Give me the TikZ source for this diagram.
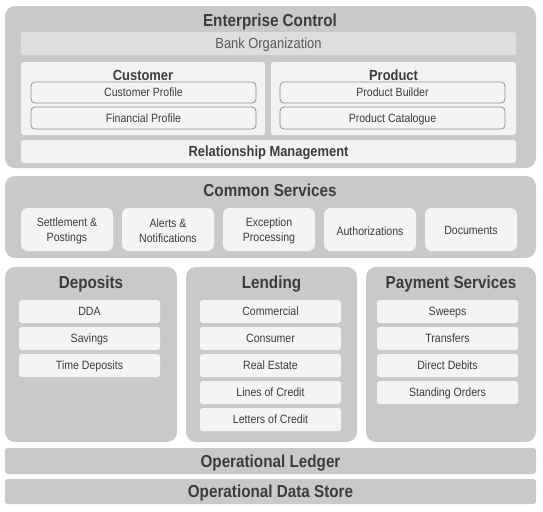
\documentclass[tikz,border=0pt]{standalone}
\usepackage{fontspec}
\setmainfont{Liberation Sans}[FakeStretch=0.88]
\usetikzlibrary{fit}

\definecolor{shellgray}{HTML}{C9C9C9}
\definecolor{bargray}{HTML}{DEDEDE}
\definecolor{panelgray}{HTML}{F2F2F2}
\definecolor{itemgray}{HTML}{F4F4F4}
\definecolor{linegray}{HTML}{8E8E8E}
\definecolor{textgray}{HTML}{3C3C3C}

\begin{document}
\begin{tikzpicture}[x=0.75pt,y=-0.75pt]
  \tikzset{shell/.style = {fill=shellgray, rounded corners=7.5pt, inner sep=0pt}}
  \tikzset{bar/.style = {fill=#1, rounded corners=2pt, inner sep=0pt}}
  \tikzset{profile/.style = {draw=linegray, fill=itemgray, line width=0.6pt, rounded corners=3pt, inner sep=0pt}}
  \tikzset{service/.style = {fill=itemgray, rounded corners=5pt, inner sep=0pt}}
  \tikzset{product/.style = {fill=itemgray, rounded corners=2pt, inner sep=0pt}}
  \tikzset{small/.style = {text=textgray, inner sep=0pt, text height=6.45pt, text depth=0pt, font=\fontsize{9}{11}\selectfont}}
  \tikzset{smalltwo/.style = {text=textgray, inner sep=0pt, align=center, yshift=-1pt, font=\fontsize{9}{11.25}\selectfont}}
  \tikzset{bigtitle/.style = {text=textgray, inner sep=0pt, text height=9.3pt, text depth=0pt, font=\fontsize{13}{16}\selectfont\bfseries}}
  \tikzset{midtitle/.style = {text=textgray, inner sep=0pt, text height=7.9pt, text depth=0pt, font=\fontsize{11}{14}\selectfont\bfseries}}

  \useasboundingbox (0,0) rectangle (543,511);

  % Enterprise Control
  \node[shell, fit={(5,6) (536,168)}] (ec) {};
  \node[bigtitle] (ectitle) at (270,20) {Enterprise Control};
  \node[bar=bargray, fit={(21,32) (516,55)},
    label={[midtitle, text=textgray!85, font=\fontsize{11}{14}\selectfont]center:Bank Organization}] (bank) {};
  \node[bar=panelgray, fit={(21,62) (265,135)}] (customer) {};
  \node[bar=panelgray, fit={(271,62) (516,135)}] (product) {};
  \node[midtitle] (custtitle) at (143,75) {Customer};
  \node[midtitle] (prodtitle) at (393.5,75) {Product};
  \node[profile, fit={(31,82) (256,103)}, label={[small]center:Customer Profile}] (custprof) {};
  \node[profile, fit={(31,107) (256,129)}, label={[small]center:Financial Profile}] (finprof) {};
  \node[profile, fit={(280,82) (505,103)}, label={[small]center:Product Builder}] (prodbuild) {};
  \node[profile, fit={(280,107) (505,129)}, label={[small]center:Product Catalogue}] (prodcat) {};
  \node[bar=panelgray, fit={(21,140) (516,163)}, label={[midtitle]center:Relationship Management}] (relmgmt) {};

  % Common Services
  \node[shell, fit={(5,176) (536,258)}] (cs) {};
  \node[bigtitle] (cstitle) at (270,190) {Common Services};
  \foreach \t [count=\i from 0] in {{Settlement \&\\Postings}, {Alerts \&\\Notifications},
      {Exception\\Processing}, Authorizations, Documents}
    \node[service, fit={({21+101*\i},208) ({113+101*\i},251)}, label={[smalltwo]center:\t}] (cs\i) {};

  % Deposits, Lending, Payment Services
  \node[shell, fit={(5,267) (177,442)}] (deposits) {};
  \node[shell, fit={(186,267) (357,442)}] (lending) {};
  \node[shell, fit={(366,267) (536,442)}] (payments) {};
  \node[bigtitle] (deptitle) at (91,282) {Deposits};
  \node[bigtitle] (lendtitle) at (271.5,282) {Lending};
  \node[bigtitle] (paytitle) at (451,282) {Payment Services};
  \foreach \t [count=\i from 0] in {DDA, Savings, Time Deposits}
    \node[product, fit={(19,{300+27*\i}) (160,{323+27*\i})}, label={[small]center:\t}] (dep\i) {};
  \foreach \t [count=\i from 0] in {Commercial, Consumer, Real Estate, Lines of Credit, Letters of Credit}
    \node[product, fit={(200,{300+27*\i}) (341,{323+27*\i})}, label={[small]center:\t}] (lend\i) {};
  \foreach \t [count=\i from 0] in {Sweeps, Transfers, Direct Debits, Standing Orders}
    \node[product, fit={(377,{300+27*\i}) (518,{323+27*\i})}, label={[small]center:\t}] (pay\i) {};

  % Ledger and data store
  \node[bar=shellgray, fit={(5,448) (536,474)}, label={[bigtitle]center:Operational Ledger}] (ledger) {};
  \node[bar=shellgray, fit={(5,479) (536,504)}, label={[bigtitle]center:Operational Data Store}] (ods) {};
\end{tikzpicture}
\end{document}
